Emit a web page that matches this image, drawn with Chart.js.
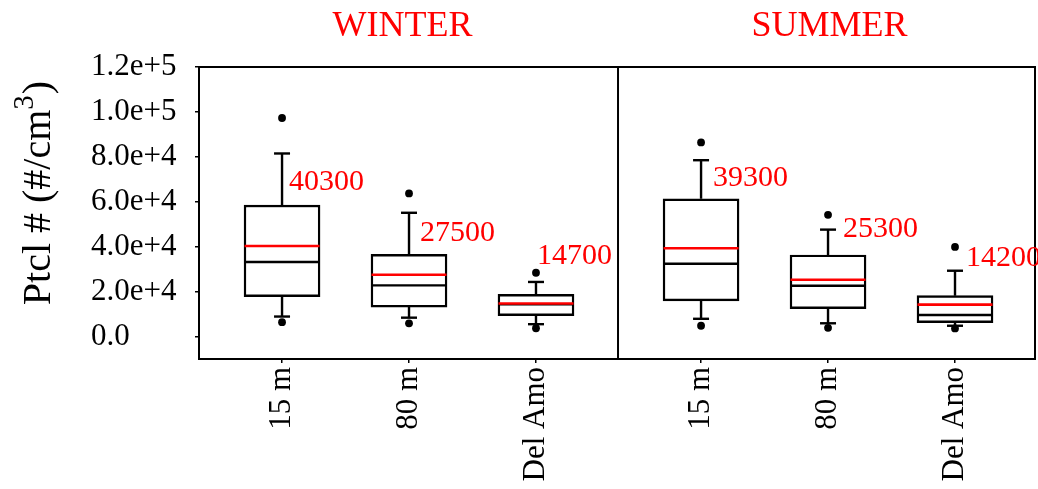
<!DOCTYPE html>
<html>
<head>
<meta charset="utf-8">
<script src="https://cdn.jsdelivr.net/npm/chart.js@4"></script>
<style>
  html, body { margin: 0; padding: 0; background: #fff; }
  canvas { display: block; }
</style>
</head>
<body>
<canvas id="chart" width="1038" height="489"></canvas>
<script>
// ---- data -------------------------------------------------------------
const seasons = ['WINTER', 'SUMMER'];
const sites = ['15 m', '80 m', 'Del Amo'];

// particle number concentration (#/cm3) per site
const winterLowPoint  = [6400, 5900, 3700];
const winterLowWhisk  = [8900, 8400, 5500];
const winterQ1        = [17800, 13100, 9300];
const winterMedian    = [33200, 22800, 14300];
const winterQ3        = [58500, 36600, 18800];
const winterHighWhisk = [81500, 55100, 24300];
const winterHighPoint = [97300, 63700, 28400];
const winterMean      = [40300, 27500, 14700];

const summerLowPoint  = [4800, 3900, 3600];
const summerLowWhisk  = [7900, 5900, 4800];
const summerQ1        = [15900, 12400, 6200];
const summerMedian    = [32400, 22600, 9600];
const summerQ3        = [61300, 36300, 18200];
const summerHighWhisk = [78500, 47600, 29300];
const summerHighPoint = [86400, 54200, 39900];
const summerMean      = [39300, 25300, 14200];

const yTickValues = [0, 20000, 40000, 60000, 80000, 100000, 120000];
const yTickLabels = ['0.0', '2.0e+4', '4.0e+4', '6.0e+4', '8.0e+4', '1.0e+5', '1.2e+5'];

// ---- layout -----------------------------------------------------------
const sitePos = [[1, 2, 3], [4.3, 5.3, 6.3]];   // x positions of the boxes, one row per season
const panelSplit = 3.646;                        // x value of the divider between seasons
const xMin = 0.346, xMax = 6.93;
const boxWidthPx = 76;
const capHalfPx = 8;
const strokePx = 2.4;
// mean label placement in pixels, relative to (box centre, mean line)
const meanLabelOffsets = [[[7, -64], [11, -42], [1, -47]], [[12, -70], [15, -51], [11, -47]]];
const RED = '#ff0000';
const FONT = "'Liberation Serif', 'Times New Roman', serif";

const stats = [
  { lowP: winterLowPoint, lowW: winterLowWhisk, q1: winterQ1, med: winterMedian,
    q3: winterQ3, highW: winterHighWhisk, highP: winterHighPoint, mean: winterMean },
  { lowP: summerLowPoint, lowW: summerLowWhisk, q1: summerQ1, med: summerMedian,
    q3: summerQ3, highW: summerHighWhisk, highP: summerHighPoint, mean: summerMean }
];

const boxData = [], whiskerData = [], capData = [], medianData = [], meanData = [], pointData = [];
stats.forEach((s, si) => {
  sitePos[si].forEach((x, i) => {
    boxData.push({ x, y: [s.q1[i], s.q3[i]] });
    whiskerData.push({ x, y: s.q3[i] }, { x, y: s.highW[i] }, { x, y: null },
                     { x, y: s.q1[i] }, { x, y: s.lowW[i] }, { x, y: null });
    capData.push({ x, y: s.highW[i] }, { x, y: s.lowW[i] });
    medianData.push({ x, y: s.med[i] });
    meanData.push({ x, y: s.mean[i] });
    pointData.push({ x, y: s.highP[i] }, { x, y: s.lowP[i] });
  });
});

Chart.defaults.font.family = FONT;
Chart.defaults.color = '#000';

// frame, season titles, axis title and mean labels
const decorations = {
  id: 'decorations',
  afterDraw(chart) {
    const { ctx, chartArea: a, scales: { x, y } } = chart;
    ctx.save();
    ctx.strokeStyle = '#000';
    ctx.lineWidth = 2;
    ctx.strokeRect(a.left, a.top, a.right - a.left, a.bottom - a.top);
    const xs = x.getPixelForValue(panelSplit);
    ctx.beginPath();
    ctx.moveTo(xs, a.top);
    ctx.lineTo(xs, a.bottom);
    ctx.stroke();

    // season titles
    ctx.fillStyle = RED;
    ctx.font = '36px ' + FONT;
    ctx.textAlign = 'center';
    ctx.textBaseline = 'alphabetic';
    ctx.fillText(seasons[0], (a.left + xs) / 2 - 6, 36);
    ctx.fillText(seasons[1], (xs + a.right) / 2 + 3, 36);

    // mean value labels
    ctx.font = '30px ' + FONT;
    ctx.textAlign = 'left';
    ctx.textBaseline = 'middle';
    stats.forEach((s, si) => {
      sitePos[si].forEach((pos, i) => {
        const [dx, dy] = meanLabelOffsets[si][i];
        ctx.fillText(String(s.mean[i]), x.getPixelForValue(pos) + dx, y.getPixelForValue(s.mean[i]) + dy);
      });
    });

    // y axis title with a raised exponent
    ctx.fillStyle = '#000';
    ctx.textAlign = 'left';
    ctx.textBaseline = 'alphabetic';
    const mainFont = '40px ' + FONT, supFont = '29px ' + FONT;
    const head = 'Ptcl # (#/cm', sup = '3', tail = ')';
    ctx.font = mainFont;
    const wHead = ctx.measureText(head).width, wTail = ctx.measureText(tail).width;
    ctx.font = supFont;
    const wSup = ctx.measureText(sup).width;
    const total = wHead + wSup + 1 + wTail;
    ctx.translate(49.5, (a.top + a.bottom) / 2 - 20);
    ctx.rotate(-Math.PI / 2);
    let cx = -total / 2;
    ctx.font = mainFont;
    ctx.fillText(head, cx, 0);
    cx += wHead;
    ctx.font = supFont;
    ctx.fillText(sup, cx, -17);
    cx += wSup + 1;
    ctx.font = mainFont;
    ctx.fillText(tail, cx, 0);
    ctx.restore();
  }
};

const tickGrid = { drawOnChartArea: false, drawTicks: true, tickLength: 4, color: '#000',
                   lineWidth: 1.5, offset: false };

new Chart(document.getElementById('chart'), {
  type: 'bar',
  data: {
    datasets: [
      { type: 'scatter', data: pointData, order: 0, pointStyle: 'circle', pointRadius: 3.9,
        pointHoverRadius: 3.9, pointBackgroundColor: '#000', pointBorderColor: '#000', pointBorderWidth: 0 },
      { type: 'scatter', data: meanData, order: 1, pointStyle: 'line', pointRadius: boxWidthPx / 2 - 0.5,
        pointHoverRadius: boxWidthPx / 2 - 0.5, pointBorderColor: RED, pointBorderWidth: 2.6 },
      { type: 'scatter', data: medianData, order: 2, pointStyle: 'line', pointRadius: boxWidthPx / 2 - 0.5,
        pointHoverRadius: boxWidthPx / 2 - 0.5, pointBorderColor: '#000', pointBorderWidth: strokePx },
      { type: 'scatter', data: capData, order: 3, pointStyle: 'line', pointRadius: capHalfPx,
        pointHoverRadius: capHalfPx, pointBorderColor: '#000', pointBorderWidth: strokePx },
      { type: 'line', data: whiskerData, order: 4, borderColor: '#000', borderWidth: strokePx,
        pointRadius: 0, spanGaps: false, fill: false },
      { type: 'bar', data: boxData, order: 5, backgroundColor: '#fff', borderColor: '#000',
        borderWidth: strokePx, borderSkipped: false, barThickness: boxWidthPx }
    ]
  },
  options: {
    responsive: false,
    animation: false,
    events: [],
    layout: { autoPadding: false, padding: { left: 91, top: 67, right: 3, bottom: 0 } },
    plugins: { legend: { display: false }, tooltip: { enabled: false } },
    scales: {
      x: {
        type: 'linear', min: xMin, max: xMax, offset: false,
        afterBuildTicks: s => { s.ticks = sitePos.flat().map(v => ({ value: v })); },
        afterFit: s => { s.height = 130; s.paddingLeft = 0; s.paddingRight = 0; },
        grid: tickGrid,
        border: { display: false },
        ticks: { autoSkip: false, minRotation: 90, maxRotation: 90, padding: 4,
                 font: { size: 31 }, callback: (v, i) => sites[i % sites.length] }
      },
      y: {
        type: 'linear', min: -10000, max: 120000,
        afterBuildTicks: s => { s.ticks = yTickValues.map(v => ({ value: v })); },
        afterFit: s => { s.width = 108; s.paddingTop = 0; s.paddingBottom = 0; },
        grid: tickGrid,
        border: { display: false },
        ticks: { crossAlign: 'far', font: { size: 31 }, callback: (v, i) => yTickLabels[i] }
      }
    }
  },
  plugins: [decorations]
});
</script>
</body>
</html>
